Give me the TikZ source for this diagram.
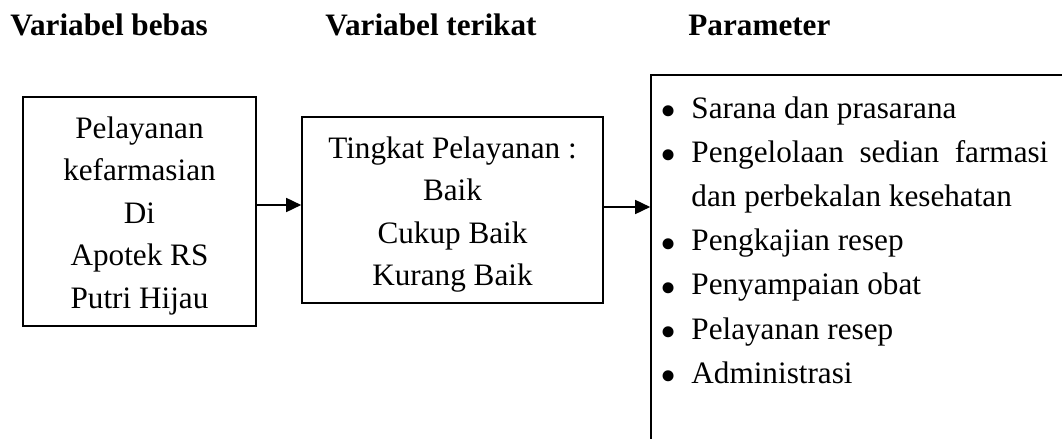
\documentclass[tikz,border=0pt]{standalone}
\usepackage{fontspec}
\setmainfont{Liberation Serif}
\usetikzlibrary{arrows.meta, positioning}

\newcommand{\butir}{\makebox[15.5pt][l]{\raisebox{-4.2pt}{\fontsize{23}{22}\selectfont\textbullet}}}
\newcommand{\atas}{\rule{0pt}{15.2pt}}

\tikzset{
  kotak/.style={draw, line width=0.8pt, align=center, inner sep=0pt},
  judul/.style={font=\fontsize{15.6}{21.25}\selectfont\bfseries, anchor=base west, inner sep=0pt},
  panah/.style={line width=0.8pt, -{Triangle[length=7.5pt,width=7pt]}},
}

\begin{document}
\begin{tikzpicture}[x=0.5pt, y=-0.5pt, font=\fontsize{15.6}{21.25}\selectfont]
\useasboundingbox (0,0) rectangle (1062,439);
\clip (0,0) rectangle (1062,439);
% Judul kolom
\node[judul] (tbebas) at (10,35) {Variabel bebas};
\node[judul] (tterikat) at (325,35) {Variabel terikat};
\node[judul] (tparam) at (688,35) {Parameter};
% Kotak variabel
\node[kotak, minimum width=116.5pt, minimum height=114.5pt] (bebas) at (139.5,211.5)
  {\atas Pelayanan\\kefarmasian\\Di\\Apotek RS\\Putri Hijau};
\node[kotak, minimum width=150.5pt, minimum height=93pt] (terikat) at (452.5,210)
  {\atas Tingkat Pelayanan :\\Baik\\Cukup Baik\\Kurang Baik};
% Kotak parameter (terpotong di kanan dan bawah)
\node[kotak, minimum width=214.5pt, minimum height=197.5pt] (param) at (865.5,272.5) {};
\node[anchor=north west, align=left, inner sep=0pt, font=\fontsize{15.6}{22.1}\selectfont] (daftar) at (660,96)
  {\butir Sarana dan prasarana\\
   \butir\makebox[178.5pt][s]{Pengelolaan sedian farmasi}\\
   \hspace{15.5pt}dan perbekalan kesehatan\\
   \butir Pengkajian resep\\
   \butir Penyampaian obat\\
   \butir Pelayanan resep\\
   \butir Administrasi};
% Panah
\draw[panah] ([yshift=3.25pt]bebas.east) -- ([yshift=3.25pt]bebas.east -| terikat.west);
\draw[panah] ([yshift=1.5pt]terikat.east) -- ([yshift=1.5pt]terikat.east -| param.west);
\end{tikzpicture}
\end{document}
